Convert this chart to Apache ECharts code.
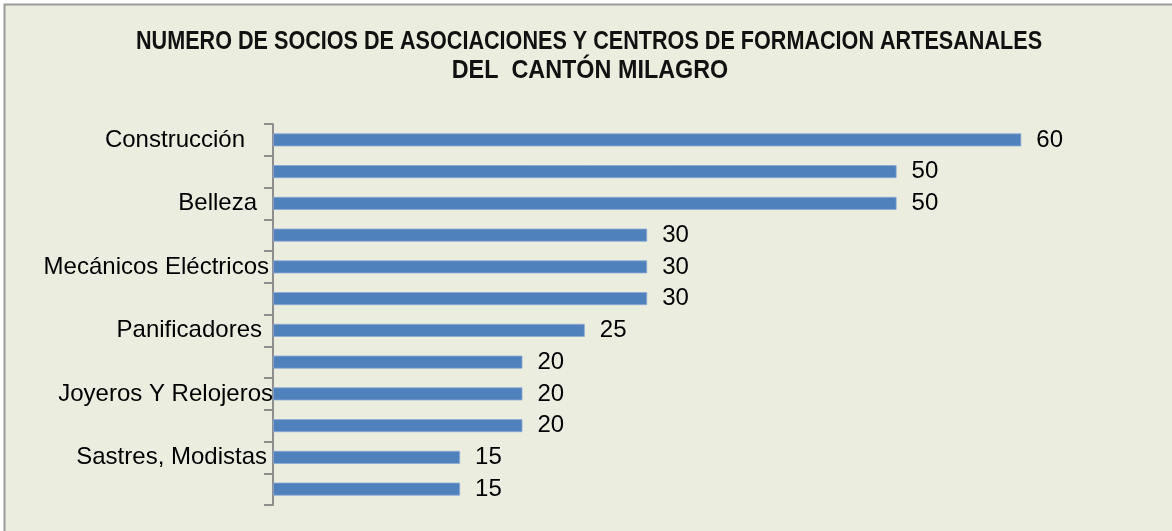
<!DOCTYPE html>
<html>
<head>
<meta charset="utf-8">
<script src="https://cdn.jsdelivr.net/npm/echarts@6/dist/echarts.min.js"></script>
<style>
html,body{margin:0;padding:0;background:#ffffff;}
#chart{width:1172px;height:531px;}
</style>
</head>
<body>
<div id="chart"></div>
<script>
// Data (top to bottom)
const titleLines = ['NUMERO DE SOCIOS DE ASOCIACIONES Y CENTROS DE FORMACION ARTESANALES', 'DEL  CANTÓN MILAGRO'];
const categories = ['Construcción', '', 'Belleza', '', 'Mecánicos Eléctricos', '', 'Panificadores', '', 'Joyeros Y Relojeros', '', 'Sastres, Modistas', ''];
const values = [60, 50, 50, 30, 30, 30, 25, 20, 20, 20, 15, 15];

// label right padding (Excel-like trailing spacing)
const labelPad = {0: 'p28', 2: 'p16', 4: 'p4', 6: 'p11', 8: 'p0', 10: 'p6'};

const chart = echarts.init(document.getElementById('chart'), null, {renderer: 'canvas'});
const richBase = {fontFamily: 'Liberation Sans, Arial, sans-serif', fontSize: 24, color: '#000000'};
const rich = {};
[0, 4, 6, 11, 16, 28].forEach(p => { rich['p' + p] = Object.assign({padding: [0, p, 0, 0]}, richBase); });

const titleFont = 'bold 25px "Liberation Sans", Arial, sans-serif';

chart.setOption({
  animation: false,
  backgroundColor: '#ffffff',
  graphic: {
    elements: [{
      type: 'rect', z: -10, silent: true,
      shape: {x: 4.5, y: 4.5, width: 1300, height: 700},
      style: {fill: '#ebeedf', stroke: '#9a9a9a', lineWidth: 2}
    }, {
      type: 'text', z: 10, silent: true,
      x: 589, y: 42, scaleX: 0.864,
      style: {text: titleLines[0], font: titleFont, fill: '#111111', align: 'center', verticalAlign: 'middle'}
    }, {
      type: 'text', z: 10, silent: true,
      x: 590, y: 71, scaleX: 0.935,
      style: {text: titleLines[1], font: titleFont, fill: '#111111', align: 'center', verticalAlign: 'middle'}
    }]
  },
  grid: {left: 273, right: 26, top: 124, bottom: 26, containLabel: false},
  xAxis: {
    type: 'value', min: 0, max: 70,
    show: false,
    splitLine: {show: false}
  },
  yAxis: {
    type: 'category',
    inverse: true,
    data: categories,
    axisLine: {show: true, lineStyle: {color: '#8e8e8e', width: 2}},
    axisTick: {show: true, length: 9, lineStyle: {color: '#8e8e8e', width: 2}},
    axisLabel: {
      interval: 0,
      margin: 0,
      formatter: (v, i) => v ? '{' + (labelPad[i] || 'p0') + '|' + v + '}' : '',
      rich: rich
    },
    splitLine: {show: false}
  },
  series: [{
    type: 'bar',
    data: values,
    barWidth: 13,
    itemStyle: {color: '#4f81bd', borderColor: '#8eaad6', borderWidth: 0.8},
    label: {
      show: true,
      position: 'right',
      distance: 15,
      fontFamily: 'Liberation Sans, Arial, sans-serif',
      fontSize: 24,
      color: '#000000'
    }
  }]
});
</script>
</body>
</html>
